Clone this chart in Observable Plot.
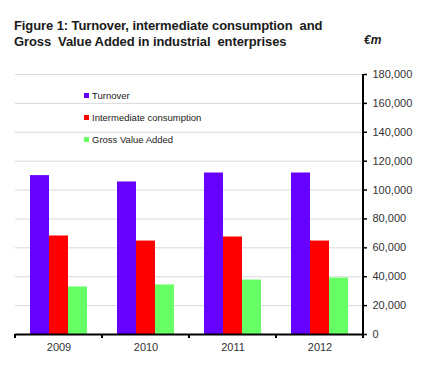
<!DOCTYPE html>
<html>
<head>
<meta charset="utf-8">
<script src="https://cdn.jsdelivr.net/npm/d3@7"></script>
<script src="https://cdn.jsdelivr.net/npm/@observablehq/plot@0.6"></script>
<style>
  body { margin: 0; background: #fff; }
  #wrap { position: relative; width: 425px; height: 369px; overflow: hidden; font-family: "Liberation Sans", Arial, sans-serif; }
  #title { position: absolute; left: 14px; top: 18px; font-size: 13px; letter-spacing: -0.1px; font-weight: bold; line-height: 16px; color: #1a1a1a; white-space: pre; }
  #unit { position: absolute; left: 364px; top: 32px; font-size: 12px; font-weight: bold; font-style: italic; line-height: 16px; color: #1a1a1a; }
  #chart { position: absolute; left: 0; top: 60px; }
  #legend { position: absolute; left: 84px; top: 90px; font-size: 9.5px; color: #222; }
  .item { position: absolute; left: 0; white-space: pre; height: 12px; line-height: 12px; }
  .sw { display: inline-block; width: 5px; height: 5px; margin-right: 3px; vertical-align: 1px; }
</style>
</head>
<body>
<div id="wrap">
  <div id="title">Figure 1: Turnover, intermediate consumption  and
Gross  Value Added in industrial  enterprises</div>
  <div id="unit">€m</div>
  <div id="chart"></div>
  <div id="legend"></div>
</div>
<script>
const years = ["2009", "2010", "2011", "2012"];
const series = ["Turnover", "Intermediate consumption", "Gross Value Added"];
const turnover = [110000, 105600, 111800, 111800];
const intermediate = [68200, 64700, 67500, 64700];
const gva = [32900, 34300, 37700, 39100];
const colors = ["#6600ff", "#ff0000", "#66ff66"];
const yTicks = [0, 20000, 40000, 60000, 80000, 100000, 120000, 140000, 160000, 180000];

const values = [turnover, intermediate, gva];
const data = [];
years.forEach((yr, i) => series.forEach((s, j) => data.push({year: yr, series: s, value: values[j][i]})));

const plot = Plot.plot({
  width: 425,
  height: 309,
  marginTop: 14,
  marginBottom: 35,
  marginLeft: 13,
  marginRight: 61,
  fx: {domain: years, padding: 0, label: null},
  x: {domain: series, paddingInner: 0, paddingOuter: 0.73, axis: null},
  y: {domain: [0, 180000], label: null},
  color: {domain: series, range: colors},
  style: {fontFamily: "'Liberation Sans', Arial, sans-serif", fontSize: "11px", color: "#333", background: "white"},
  marks: [
    Plot.gridY(yTicks, {stroke: "#d9d9d9", strokeOpacity: 1}),
    Plot.barY(data, {fx: "year", x: "series", y: "value", fill: "series"}),
    Plot.ruleY([0], {stroke: "black", strokeWidth: 2}),
    Plot.axisY(yTicks, {anchor: "right", tickFormat: d3.format(","), tickSize: 3, tickPadding: 6, stroke: "black", strokeWidth: 1.5, fill: "#333", label: null}),
    Plot.axisFx({anchor: "bottom", tickSize: 0, tickPadding: 9, fill: "#333", label: null})
  ]
});
document.getElementById("chart").appendChild(plot);

// Category-axis ticks at group boundaries and the right value-axis line
const svg = d3.select(plot);
const fx = plot.scale("fx");
const y = plot.scale("y");
const y0 = y.apply(0);
const bounds = years.map(yr => fx.apply(yr)).concat([fx.apply(years[years.length - 1]) + fx.bandwidth]);
svg.append("g").selectAll("line").data(bounds).join("line")
  .attr("x1", d => d).attr("x2", d => d)
  .attr("y1", y0).attr("y2", y0 + 4)
  .attr("stroke", "black").attr("stroke-width", 2);
const xr = bounds[bounds.length - 1];
svg.append("line")
  .attr("x1", xr).attr("x2", xr)
  .attr("y1", y.apply(yTicks[yTicks.length - 1])).attr("y2", y0 + 1)
  .attr("stroke", "black").attr("stroke-width", 2);

// Legend inside the plot area
const legend = d3.select("#legend");
series.forEach((s, i) => {
  const it = legend.append("div").attr("class", "item").style("top", (i * 22) + "px");
  it.append("span").attr("class", "sw").style("background", colors[i]);
  it.append("span").text(s);
});
</script>
</body>
</html>
